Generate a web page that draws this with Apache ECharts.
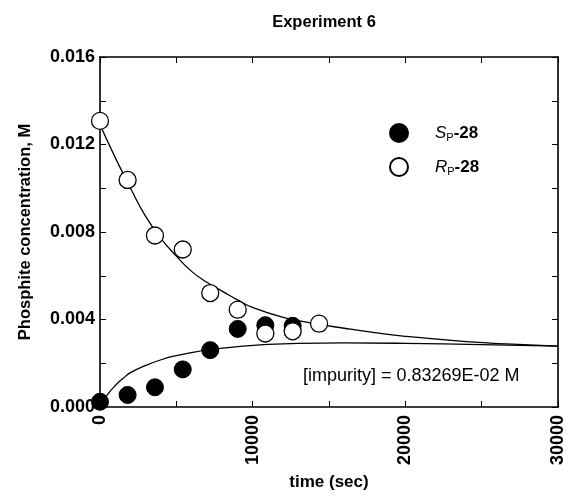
<!DOCTYPE html>
<html>
<head>
<meta charset="utf-8">
<script src="https://cdn.jsdelivr.net/npm/echarts@6/dist/echarts.min.js"></script>
<style>
html,body{margin:0;padding:0;background:#fff;}
#main{width:575px;height:497px;}
</style>
</head>
<body>
<div id="main"></div>
<script>

/********** 数据 ********** */

// measured points, time (sec)
var pointTimes = [0, 1810, 3600, 5420, 7220, 9020, 10830, 12620];
var spValues = [0.00024, 0.00055, 0.0009, 0.00172, 0.0026, 0.00357, 0.00374, 0.00371];
var rpTimes = [0, 1810, 3600, 5420, 7220, 9020, 10830, 12620, 14350];
var rpValues = [0.01308, 0.01038, 0.00784, 0.0072, 0.00521, 0.00445, 0.00336, 0.00346, 0.00381];

// fitted curves
var spFitTimes = [0, 250, 500, 1000, 1500, 2000, 3000, 4000, 5000, 6000, 7200, 9000, 10500, 13000, 16000, 20000, 25000, 30000];
var spFit = [0, 0.0003, 0.00058, 0.00098, 0.0013, 0.00157, 0.0019, 0.00216, 0.00235, 0.00249, 0.00262, 0.00276, 0.00284, 0.00291, 0.00293, 0.00291, 0.00285, 0.00278];
var rpFitTimes = [0, 1000, 2000, 3000, 4000, 5000, 6000, 7000, 8000, 9000, 10000, 12000, 14000, 16000, 18000, 20000, 24000, 27000, 30000];
var rpFit = [0.0129, 0.0114, 0.0100, 0.0087, 0.0077, 0.0069, 0.0062, 0.0057, 0.0053, 0.0049, 0.00455, 0.0041, 0.00382, 0.0036, 0.0034, 0.00323, 0.00299, 0.00287, 0.00278];

var impurityText = "[impurity] = 0.83269E-02 M";

function pairs(xs, ys){
    var out = [];
    for(var i = 0; i < ys.length; i++){
        out.push([xs[i], ys[i]]);
    }
    return out;
}

var font = "Liberation Sans";

/********* 图表 ********* */
var myChart = echarts.init(document.getElementById("main"));

var tickStyle = {show:true, inside:true, length:6, lineStyle:{color:"#000", width:1}};
var lineStyle = {show:true, onZero:false, lineStyle:{color:"#000", width:1.6}};

option = {
    animation : false,
    backgroundColor : "#fff",

    title : {
        text : "Experiment 6",
        left : 319,
        top : 9,
        textAlign : "center",
        textStyle : {fontFamily:font, fontSize:16.5, fontWeight:"bold", color:"#000"}
    },

    grid : {left:100, right:17, top:57, bottom:90},

    legend : {
        orient : "vertical",
        left : 389,
        top : 123,
        padding : 0,
        itemWidth : 18,
        itemHeight : 18,
        itemGap : 14,
        data : ["Sp", "Rp"],
        formatter : function(name){
            return name == "Sp" ? "{i|S}{s|P}{b|-28}" : "{i|R}{s|P}{b|-28}";
        },
        textStyle : {
            color : "#000",
            padding : [0, 0, 0, 22],
            rich : {
                i : {fontFamily:font, fontSize:17, fontStyle:"italic", color:"#000"},
                s : {fontFamily:font, fontSize:11, color:"#000", padding:[9, 0, 0, 0]},
                b : {fontFamily:font, fontSize:17, fontWeight:"bold", color:"#000"}
            }
        }
    },

    xAxis : [
        {
            type : "value",
            min : 0,
            max : 30000,
            interval : 5000,
            position : "bottom",
            axisLine : lineStyle,
            axisTick : tickStyle,
            splitLine : {show:false},
            axisLabel : {
                rotate : 90,
                margin : 8,
                fontFamily : font,
                fontSize : 18,
                fontWeight : "bold",
                color : "#000",
                formatter : function(v){ return v % 10000 == 0 ? String(v) : ""; }
            },
            name : "time (sec)",
            nameLocation : "middle",
            nameGap : 67,
            nameTextStyle : {fontFamily:font, fontSize:17, fontWeight:"bold", color:"#000"}
        },
        {
            type : "value",
            min : 0,
            max : 30000,
            interval : 5000,
            position : "top",
            axisLine : lineStyle,
            axisTick : tickStyle,
            axisLabel : {show:false},
            splitLine : {show:false}
        }
    ],

    yAxis : [
        {
            type : "value",
            min : 0,
            max : 0.016,
            interval : 0.002,
            position : "left",
            axisLine : lineStyle,
            axisTick : tickStyle,
            splitLine : {show:false},
            axisLabel : {
                margin : 5,
                fontFamily : font,
                fontSize : 18,
                fontWeight : "bold",
                color : "#000",
                formatter : function(v){ return Math.round(v * 1000) % 4 == 0 ? v.toFixed(3) : ""; }
            },
            name : "Phosphite concentration, M",
            nameLocation : "middle",
            nameGap : 66,
            nameTextStyle : {fontFamily:font, fontSize:16.5, fontWeight:"bold", color:"#000"}
        },
        {
            type : "value",
            min : 0,
            max : 0.016,
            interval : 0.002,
            position : "right",
            axisLine : lineStyle,
            axisTick : tickStyle,
            axisLabel : {show:false},
            splitLine : {show:false}
        }
    ],

    graphic : [
        {
            type : "text",
            left : 303,
            top : 367,
            style : {text:impurityText, fontFamily:font, fontSize:18, fill:"#000"}
        }
    ],

    series : [
        {
            name : "spFit",
            type : "line",
            data : pairs(spFitTimes, spFit),
            smooth : true,
            showSymbol : false,
            lineStyle : {color:"#000", width:1.3},
            z : 1
        },
        {
            name : "rpFit",
            type : "line",
            data : pairs(rpFitTimes, rpFit),
            smooth : true,
            showSymbol : false,
            lineStyle : {color:"#000", width:1.3},
            z : 1
        },
        {
            name : "Sp",
            type : "scatter",
            data : pairs(pointTimes, spValues),
            symbol : "circle",
            symbolSize : 17,
            itemStyle : {color:"#000", borderColor:"#000", borderWidth:1, opacity:1},
            z : 3
        },
        {
            name : "Rp",
            type : "scatter",
            data : pairs(rpTimes, rpValues),
            symbol : "circle",
            symbolSize : 17,
            itemStyle : {color:"#fff", borderColor:"#000", borderWidth:1.3, opacity:1},
            z : 4
        }
    ]
}

myChart.setOption(option);

</script>
</body>
</html>
